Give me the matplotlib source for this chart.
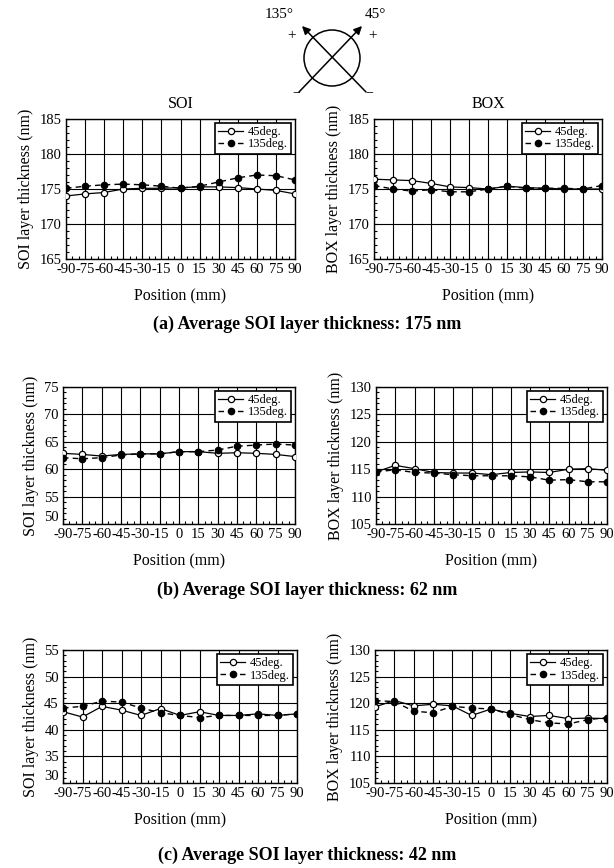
import matplotlib
matplotlib.use("Agg")
import matplotlib.pyplot as plt
from matplotlib.patches import Circle
from matplotlib.ticker import MultipleLocator

plt.rcParams['font.family'] = ['Liberation Serif', 'DejaVu Serif']
plt.rcParams['axes.unicode_minus'] = False

positions = [-90, -75, -60, -45, -30, -15, 0, 15, 30, 45, 60, 75, 90]
series_labels = ["45deg.", "135deg."]

# (a) average 175 nm
a_soi_45 = [174.0, 174.3, 174.5, 175.0, 175.1, 175.1, 175.2, 175.3, 175.3, 175.2, 175.0, 174.8, 174.3]
a_soi_135 = [175.1, 175.4, 175.6, 175.7, 175.6, 175.4, 175.1, 175.4, 176.0, 176.6, 177.0, 176.9, 176.3]
a_box_45 = [176.4, 176.3, 176.2, 175.8, 175.3, 175.2, 175.0, 175.4, 175.2, 175.1, 175.0, 175.0, 175.0]
a_box_135 = [175.5, 175.0, 174.7, 174.9, 174.6, 174.6, 175.0, 175.4, 175.1, 175.1, 175.1, 175.0, 175.5]

# (b) average 62 nm
b_soi_45 = [62.9, 62.7, 62.4, 62.7, 62.8, 62.8, 63.2, 63.2, 62.9, 63.0, 62.9, 62.7, 62.3]
b_soi_135 = [62.1, 61.9, 62.1, 62.6, 62.8, 62.8, 63.2, 63.2, 63.5, 64.2, 64.4, 64.6, 64.4]
b_box_45 = [114.5, 115.7, 115.1, 114.4, 114.3, 114.3, 114.0, 114.4, 114.5, 114.4, 115.0, 115.1, 114.8]
b_box_135 = [114.5, 114.9, 114.4, 114.3, 114.0, 113.8, 113.8, 113.8, 113.6, 113.0, 113.1, 112.7, 112.7]

# (c) average 42 nm
c_soi_45 = [43.4, 42.4, 44.4, 43.7, 42.7, 44.0, 42.7, 43.4, 42.7, 42.7, 43.0, 42.7, 43.0]
c_soi_135 = [44.1, 44.4, 45.4, 45.2, 44.1, 43.2, 42.7, 42.3, 42.7, 42.7, 42.7, 42.7, 43.0]
c_box_45 = [119.3, 120.5, 119.5, 119.8, 119.5, 117.7, 118.9, 118.1, 117.5, 117.7, 117.1, 117.2, 117.1]
c_box_135 = [120.5, 120.3, 118.5, 118.2, 119.4, 119.1, 118.9, 117.9, 116.9, 116.3, 116.1, 116.9, 117.3]

soi_ylabel = "SOI layer thickness (nm)"
box_ylabel = "BOX layer thickness (nm)"
xlabel = "Position (mm)"
captions = ["(a) Average SOI layer thickness: 175 nm",
            "(b) Average SOI layer thickness: 62 nm",
            "(c) Average SOI layer thickness: 42 nm"]

W, H = 614, 868
fig = plt.figure(figsize=(W / 100, H / 100), dpi=100)


def px_axes(x0, y0, x1, y1):
    return fig.add_axes([x0 / W, 1 - y1 / H, (x1 - x0) / W, (y1 - y0) / H])


def panel(box, s45, s135, ylim, ylabel, title=None, lift_bottom=False):
    ax = px_axes(*box)
    ax.plot(positions, s45, '-', color='black', lw=0.9, marker='o', ms=4.5,
            mfc='white', mec='black', mew=0.9, label=series_labels[0], zorder=3)
    ax.plot(positions, s135, '--', color='black', lw=1.0, marker='o', ms=4.5,
            mfc='black', mec='black', label=series_labels[1], zorder=3,
            dashes=(4, 3))
    ax.set_xlim(-90, 90)
    ax.set_ylim(*ylim)
    ax.set_xticks(positions)
    yt = list(range(ylim[0], ylim[1] + 1, 5))
    ax.set_yticks(yt)
    ax.yaxis.set_minor_locator(MultipleLocator(1))
    ax.xaxis.set_minor_locator(MultipleLocator(5))
    ax.grid(True, which='major', color='black', lw=0.8)
    ax.tick_params(which='both', direction='in', labelsize=10.5, length=3,
                   width=0.8, pad=3)
    ax.tick_params(which='minor', length=2)
    for s in ax.spines.values():
        s.set_linewidth(1.0)
    ax.set_ylabel(ylabel, fontsize=11.5, labelpad=4)
    ax.set_xlabel(xlabel, fontsize=11.5, labelpad=9)
    if title:
        ax.set_title(title, fontsize=11.5, pad=8)
    leg = ax.legend(loc='upper right', fontsize=9, frameon=True, fancybox=False,
                    edgecolor='black', framealpha=1, handlelength=2.0,
                    handletextpad=0.4, borderpad=0.25, labelspacing=0.05,
                    borderaxespad=0.3)
    leg.get_frame().set_linewidth(1.2)
    if lift_bottom:
        ax.yaxis.get_major_ticks()[0].label1.set_verticalalignment('bottom')
    return ax


panel((66, 119, 295, 259), a_soi_45, a_soi_135, (165, 185), soi_ylabel, "SOI")
panel((374, 119, 602, 259), a_box_45, a_box_135, (165, 185), box_ylabel, "BOX")
panel((63, 387, 295, 524), b_soi_45, b_soi_135, (50, 75), soi_ylabel, lift_bottom=True)
panel((376, 387, 607, 524), b_box_45, b_box_135, (105, 130), box_ylabel)
panel((63, 650, 297, 783), c_soi_45, c_soi_135, (30, 55), soi_ylabel, lift_bottom=True)
panel((375, 650, 607, 783), c_box_45, c_box_135, (105, 130), box_ylabel)

for cap, yy in zip(captions, [324, 590, 855]):
    fig.text(307 / W, 1 - yy / H, cap, ha='center', va='center',
             fontsize=13, fontweight='bold')

# orientation diagram
dax = px_axes(250, 0, 410, 100)
dax.set_xlim(250, 410)
dax.set_ylim(100, 0)
dax.axis('off')
dax.add_patch(Circle((332, 58), 28, fill=False, ec='black', lw=1.1))
dax.annotate('', xy=(362, 26), xytext=(299, 92),
             arrowprops=dict(arrowstyle='-|>', color='black', lw=1.1,
                             mutation_scale=12, shrinkA=0, shrinkB=0))
dax.annotate('', xy=(302, 26), xytext=(366, 92),
             arrowprops=dict(arrowstyle='-|>', color='black', lw=1.1,
                             mutation_scale=12, shrinkA=0, shrinkB=0))
dax.text(279, 14, '135°', ha='center', va='center', fontsize=11)
dax.text(375, 14, '45°', ha='center', va='center', fontsize=11)
dax.text(292, 36, '+', ha='center', va='center', fontsize=11)
dax.text(373, 36, '+', ha='center', va='center', fontsize=11)
dax.text(296, 93, '−', ha='center', va='center', fontsize=10)
dax.text(369, 93, '−', ha='center', va='center', fontsize=10)

fig.savefig('out.png', dpi=100)
